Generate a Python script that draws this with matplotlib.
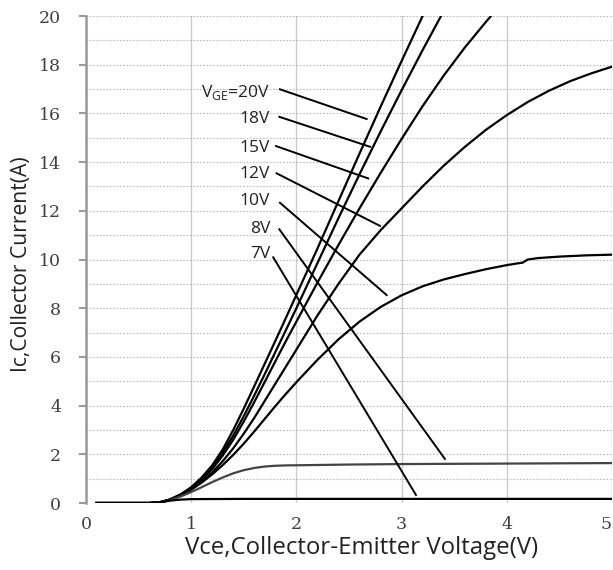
import matplotlib.pyplot as plt
import numpy as np

plt.rcParams['mathtext.fontset'] = 'custom'
plt.rcParams['mathtext.rm'] = 'Open Sans'

vce_20 = [0.1, 0.6, 0.7, 0.8, 0.9, 1.0, 1.1, 1.2, 1.3, 1.4, 1.5, 1.6, 1.7, 1.8, 1.9,
          2.0, 2.2, 2.4, 2.6, 2.8, 3.0, 3.2, 3.3]
ic_20 = [0, 0, 0.03, 0.15, 0.35, 0.65, 1.05, 1.55, 2.2, 3.0, 3.88, 4.8, 5.73, 6.66, 7.6,
         8.55, 10.45, 12.4, 14.35, 16.27, 18.15, 20.0, 20.9]

vce_18 = [0.1, 0.6, 0.7, 0.8, 0.9, 1.0, 1.1, 1.2, 1.3, 1.4, 1.5, 1.6, 1.7, 1.8, 1.9,
          2.0, 2.2, 2.4, 2.6, 2.8, 3.0, 3.2, 3.4]
ic_18 = [0, 0, 0.03, 0.15, 0.35, 0.63, 1.0, 1.48, 2.07, 2.77, 3.57, 4.42, 5.3, 6.2, 7.1,
         8.0, 9.85, 11.7, 13.5, 15.25, 16.95, 18.6, 20.2]

vce_15 = [0.1, 0.6, 0.7, 0.8, 0.9, 1.0, 1.1, 1.2, 1.3, 1.4, 1.5, 1.6, 1.7, 1.8, 1.9,
          2.0, 2.2, 2.4, 2.6, 2.8, 3.0, 3.2, 3.4, 3.6, 3.8, 3.9]
ic_15 = [0, 0, 0.03, 0.14, 0.33, 0.6, 0.95, 1.4, 1.95, 2.6, 3.35, 4.15, 4.98, 5.82, 6.65,
         7.45, 9.05, 10.6, 12.1, 13.55, 14.95, 16.3, 17.55, 18.7, 19.75, 20.25]

vce_12 = [0.1, 0.6, 0.7, 0.8, 0.9, 1.0, 1.1, 1.2, 1.3, 1.4, 1.5, 1.6, 1.7, 1.8, 1.9,
          2.0, 2.2, 2.4, 2.6, 2.8, 3.0, 3.2, 3.4, 3.6, 3.8, 4.0, 4.2, 4.4, 4.6, 4.8, 5.0]
ic_12 = [0, 0, 0.03, 0.13, 0.3, 0.55, 0.87, 1.26, 1.72, 2.25, 2.85, 3.5, 4.2, 4.9, 5.6,
         6.3, 7.7, 9.0, 10.2, 11.2, 12.1, 13.0, 13.85, 14.62, 15.32, 15.93, 16.47, 16.93,
         17.32, 17.64, 17.92]

vce_10 = [0.1, 0.6, 0.7, 0.8, 0.9, 1.0, 1.1, 1.2, 1.3, 1.4, 1.5, 1.6, 1.7, 1.8, 1.9,
          2.0, 2.2, 2.4, 2.6, 2.8, 3.0, 3.2, 3.4, 3.6, 3.8, 4.0, 4.1, 4.15, 4.2, 4.3,
          4.5, 4.75, 5.0]
ic_10 = [0, 0, 0.02, 0.12, 0.3, 0.55, 0.84, 1.18, 1.56, 1.98, 2.44, 2.94, 3.46, 3.98, 4.48,
         4.96, 5.88, 6.72, 7.45, 8.05, 8.53, 8.9, 9.18, 9.4, 9.6, 9.77, 9.84, 9.87, 10.0,
         10.06, 10.12, 10.17, 10.2]

vce_8 = [0.1, 0.6, 0.7, 0.8, 0.9, 1.0, 1.1, 1.2, 1.3, 1.4, 1.5, 1.6, 1.7, 1.8, 1.9,
         2.0, 2.5, 3.0, 4.0, 5.0]
ic_8 = [0, 0, 0.03, 0.12, 0.27, 0.45, 0.65, 0.86, 1.05, 1.22, 1.35, 1.44, 1.5, 1.53,
        1.545, 1.55, 1.58, 1.6, 1.62, 1.64]

vce_7 = [0.1, 0.6, 0.7, 0.8, 0.9, 1.0, 1.5, 5.0]
ic_7 = [0, 0, 0.03, 0.1, 0.14, 0.16, 0.17, 0.17]

# labels and their leader lines (text anchor, line start, line end)
labels = ['V$_{\\mathrm{GE}}$=20V', '18V', '15V', '12V', '10V', '8V', '7V']
label_y = [16.69, 15.59, 14.43, 13.33, 12.24, 11.08, 10.06]
label_x = 1.75
lead_x0 = [1.844, 1.838, 1.806, 1.812, 1.844, 1.838, 1.78]
lead_y0 = [16.99, 15.86, 14.66, 13.54, 12.33, 11.24, 10.09]
lead_x1 = [2.668, 2.70, 2.683, 2.795, 2.858, 3.412, 3.137]
lead_y1 = [15.77, 14.63, 13.33, 11.38, 8.54, 1.81, 0.33]

fig = plt.figure(figsize=(6.13, 5.70), dpi=100)
ax = fig.add_axes([0.1403, 0.1175, 0.858, 0.8544])

curves = [(vce_20, ic_20), (vce_18, ic_18), (vce_15, ic_15), (vce_12, ic_12),
          (vce_10, ic_10), (vce_8, ic_8), (vce_7, ic_7)]
for i, (vx, vy) in enumerate(curves):
    col = '#444444' if i == 5 else 'black'
    ax.plot(vx, vy, color=col, lw=1.6, zorder=3)

for i in range(len(labels)):
    ax.plot([lead_x0[i], lead_x1[i]], [lead_y0[i], lead_y1[i]], color='black', lw=1.4, zorder=3)
    ax.text(label_x, label_y[i], labels[i], ha='right', va='baseline',
            fontsize=12.5, family='Open Sans', color='#222222')

ax.set_xlim(0, 5)
ax.set_ylim(0, 20)
ax.set_xticks([0, 1, 2, 3, 4, 5])
ax.set_yticks(range(0, 21, 2))
ax.set_yticks(range(1, 20, 2), minor=True)

ax.grid(axis='x', which='major', color='#cccccc', lw=1.0, ls='-')
ax.grid(axis='y', which='both', color='#bbbbbb', lw=0.8, ls=(0, (1.5, 1.5)))
ax.set_axisbelow(True)

for s in ['top', 'right', 'bottom']:
    ax.spines[s].set_visible(False)
ax.spines['left'].set_color('#999999')
ax.spines['left'].set_linewidth(1.8)

ax.tick_params(axis='y', which='major', length=5, width=1.5, color='#999999', pad=13)
ax.tick_params(axis='y', which='minor', length=0)
ax.tick_params(axis='x', length=0, pad=9)
for t in ax.get_xticklabels() + ax.get_yticklabels():
    t.set_family('DejaVu Serif')
    t.set_fontsize(12.5)
    t.set_color('#404040')
ax.get_xticklabels()[-1].set_horizontalalignment('right')

ax.set_xlabel('Vce,Collector-Emitter Voltage(V)', family='Open Sans', fontsize=17.3, color='#222222')
ax.set_ylabel('Ic,Collector Current(A)', family='Open Sans', fontsize=15.2, color='#222222')
ax.xaxis.set_label_coords(0.523, -0.068)
ax.yaxis.set_label_coords(-0.103, 0.49)

plt.savefig('out.png', dpi=100)
